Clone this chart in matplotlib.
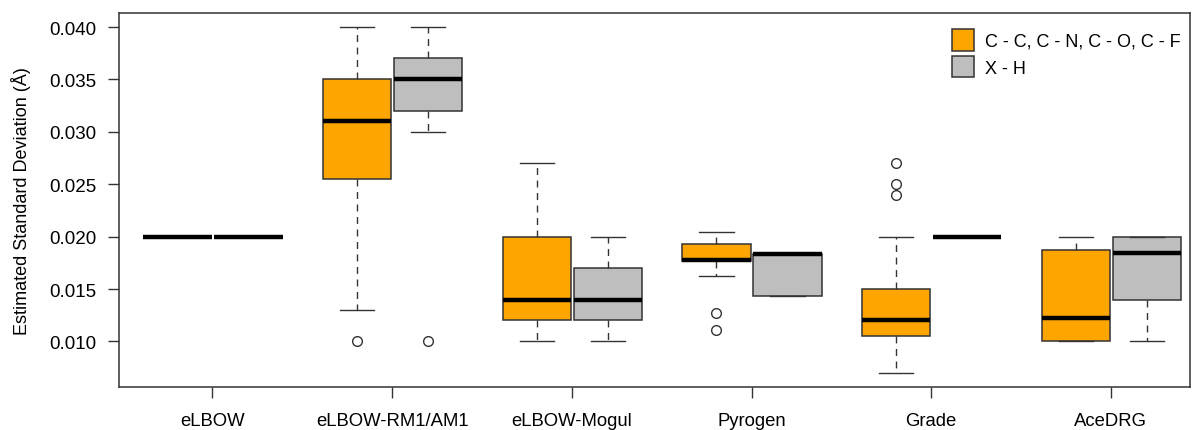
import matplotlib
matplotlib.use('Agg')
import matplotlib.pyplot as plt
from matplotlib.patches import Patch

plt.rcParams['font.family'] = ['Liberation Sans', 'DejaVu Sans']

# Programs along the x axis
programs = ['eLBOW', 'eLBOW-RM1/AM1', 'eLBOW-Mogul', 'Pyrogen', 'Grade', 'AceDRG']
series = ['C - C, C - N, C - O, C - F', 'X - H']
colors = ['#FFA500', '#BEBEBE']

# Box statistics: (whislo, q1, med, q3, whishi)
heavy_stats = [
    (0.020, 0.020, 0.020, 0.020, 0.020),
    (0.013, 0.0255, 0.031, 0.035, 0.040),
    (0.010, 0.012, 0.014, 0.020, 0.027),
    (0.0162, 0.0177, 0.0178, 0.0193, 0.0204),
    (0.007, 0.0105, 0.012, 0.015, 0.020),
    (0.010, 0.010, 0.0122, 0.0187, 0.020),
]
heavy_fliers = [[], [0.010], [], [0.0127, 0.0111], [0.027, 0.025, 0.024], []]

hydrogen_stats = [
    (0.020, 0.020, 0.020, 0.020, 0.020),
    (0.030, 0.032, 0.035, 0.037, 0.040),
    (0.010, 0.012, 0.014, 0.017, 0.020),
    (0.0143, 0.0143, 0.0183, 0.0183, 0.0183),
    (0.020, 0.020, 0.020, 0.020, 0.020),
    (0.010, 0.014, 0.0184, 0.020, 0.020),
]
hydrogen_fliers = [[], [0.010], [], [], [], []]


def to_bxp(stats, fliers):
    out = []
    for (lo, q1, med, q3, hi), fl in zip(stats, fliers):
        out.append(dict(whislo=lo, q1=q1, med=med, q3=q3, whishi=hi, fliers=fl))
    return out


W, H = 1193, 431
fig = plt.figure(figsize=(W / 100, H / 100), dpi=100)
ax = fig.add_axes([119 / W, (H - 387.5) / H, (1190 - 119) / W, (387.5 - 14) / H])

groups = [(heavy_stats, heavy_fliers, -0.195), (hydrogen_stats, hydrogen_fliers, 0.2)]
for (stats, fliers, off), col in zip(groups, colors):
    pos = [i + off for i in range(len(programs))]
    ax.bxp(to_bxp(stats, fliers), positions=pos, widths=0.38, patch_artist=True,
           showfliers=True, manage_ticks=False,
           boxprops=dict(facecolor=col, edgecolor='#333333', linewidth=1.1),
           medianprops=dict(color='black', linewidth=3.2, solid_capstyle='butt'),
           whiskerprops=dict(color='#333333', linewidth=1.0, linestyle=(0, (5, 4))),
           capprops=dict(color='#333333', linewidth=1.0),
           capwidths=0.19,
           flierprops=dict(marker='o', markersize=7, markerfacecolor='none',
                           markeredgecolor='#333333', markeredgewidth=1.0))

ax.set_xlim(-0.52, 5.44)
ax.set_ylim(0.0057, 0.04134)
ax.set_xticks(range(len(programs)))
ax.set_xticklabels(programs, fontsize=13.3)
ax.set_yticks([0.010, 0.015, 0.020, 0.025, 0.030, 0.035, 0.040])
ax.set_yticklabels(['0.010', '0.015', '0.020', '0.025', '0.030', '0.035', '0.040'], fontsize=13.5)
ax.tick_params(axis='both', length=8, width=1, color='#333333', direction='out')
ax.tick_params(axis='x', pad=10.5)
ax.tick_params(axis='y', pad=8)
for sp in ax.spines.values():
    sp.set_color('#333333')
    sp.set_linewidth(1.1)
ax.set_ylabel('Estimated Standard Deviation (Å)', fontsize=13, labelpad=13)

handles = [Patch(facecolor=c, edgecolor='#333333', linewidth=1.1) for c in colors]
ax.legend(handles, series, loc='upper left', bbox_to_anchor=(952 / W, 1 - 30 / H),
          bbox_transform=fig.transFigure, frameon=False, fontsize=13,
          handlelength=1.2, handleheight=1.47, handletextpad=0.65,
          labelspacing=0.28, borderpad=0, borderaxespad=0)

fig.savefig('out.png', dpi=100)
plt.close(fig)
